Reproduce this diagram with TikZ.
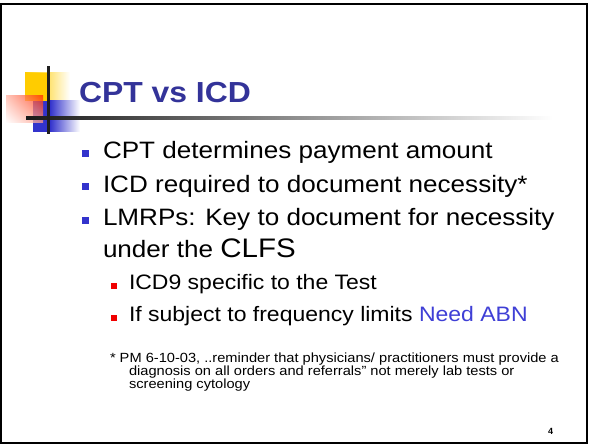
\documentclass[tikz,border=0pt]{standalone}
\usepackage{fontspec}
\setmainfont{Liberation Sans}
\usetikzlibrary{fadings,shadings}
\definecolor{titleblue}{HTML}{333399}
\definecolor{bulletblue}{HTML}{3333CC}
\definecolor{abnblue}{HTML}{3F3FD6}
\definecolor{subred}{HTML}{F00000}
\definecolor{logoyellow}{HTML}{FFCC00}
\definecolor{logored}{HTML}{FF2A00}
% the slide text is set slightly wide
\newcommand\stretchtxt[1]{\scalebox{1.1}[1]{#1}}
\tikzset{
  txt/.style={anchor=base west, inner sep=0pt, outer sep=0pt},
  bodytxt/.style={txt, font=\fontsize{23.7}{28}\selectfont},
  subtxt/.style={txt, font=\fontsize{20.9}{25}\selectfont},
  notetxt/.style={txt, font=\fontsize{13.3}{15}\selectfont},
  mainbullet/.style={fill=bulletblue, draw=none, minimum size=7pt, inner sep=0pt, anchor=south west},
  subbullet/.style={fill=subred, draw=none, minimum size=6pt, inner sep=0pt, anchor=south west},
}
\begin{document}
\begin{tikzpicture}[x=1pt,y=-1pt]
\useasboundingbox (0,0) rectangle (590,446);
\fill[white] (0,0) rectangle (590,446);

% slide frame
\draw[black, line width=2pt] (1,4) rectangle (587,443);

% corner logo: yellow, blue and red squares with a cross
\shade[left color=logoyellow, right color=white, middle color=logoyellow!60]
  (25,73) rectangle (70,101);
\fill[logoyellow] (25,73) rectangle (47,101);
\shade[left color=bulletblue, right color=white]
  (50,101) rectangle (80,132);
\fill[bulletblue] (33,101) rectangle (50,132);
\shade[upper left=logored!35, upper right=logored, lower left=white, lower right=logored!45, opacity=0.75]
  (6,96) rectangle (43,123);
\shade[left color=black!90, right color=white] (26,117) rectangle (553,120);
\fill[black!88] (47,66) rectangle (50,134);

% title
\node[txt, font=\fontsize{29}{34}\selectfont\bfseries, text=titleblue] (title) at (79,103) {\stretchtxt{CPT vs ICD}};

% main bullets
\node[mainbullet] (b1) at (82,157) {};
\node[bodytxt] (t1) at (103,159) {\stretchtxt{CPT determines payment amount}};
\node[mainbullet] (b2) at (82,190) {};
\node[bodytxt] (t2) at (103,192.5) {\stretchtxt{ICD required to document necessity*}};
\node[mainbullet] (b3) at (82,224) {};
\node[bodytxt] (t3) at (103,226) {\stretchtxt{LMRPs: Key to document for necessity}};
\node[bodytxt] (t3b) at (103,258) {\stretchtxt{under the {\fontsize{26.8}{30}\selectfont CLFS}}};

% sub bullets
\node[subbullet] (s1) at (111,289) {};
\node[subtxt] (u1) at (129,290) {\stretchtxt{ICD9 specific to the Test}};
\node[subbullet] (s2) at (111,321) {};
\node[subtxt] (u2) at (129,322) {\stretchtxt{If subject to frequency limits \textcolor{abnblue}{Need ABN}}};

% footnote
\node[notetxt] (n1) at (110,363) {\stretchtxt{* PM 6-10-03, ..reminder that physicians/ practitioners must provide a}};
\node[notetxt] (n2) at (129,376) {\stretchtxt{diagnosis on all orders and referrals'' not merely lab tests or}};
\node[notetxt] (n3) at (129,389) {\stretchtxt{screening cytology}};

% page number
\node[txt, font=\fontsize{9}{10}\selectfont\bfseries] (pg) at (548,435) {4};
\end{tikzpicture}
\end{document}
